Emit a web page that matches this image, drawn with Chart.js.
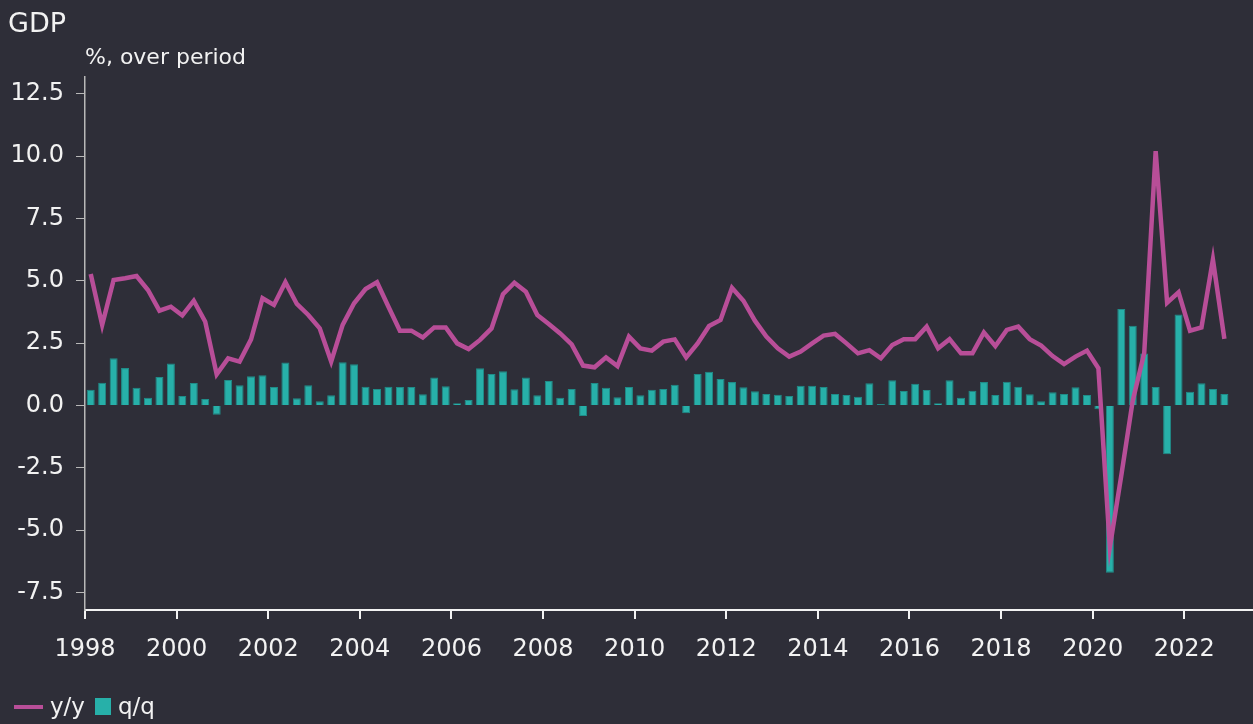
<!DOCTYPE html>
<html>
<head>
<meta charset="utf-8">
<script src="https://cdn.jsdelivr.net/npm/chart.js@4"></script>
<style>
  html, body { margin: 0; padding: 0; background: #2e2e38; }
  #wrap { position: relative; width: 1253px; height: 724px; font-family: "DejaVu Sans", sans-serif; color: #f2f2f2; }
  #myChart { position: absolute; left: 0; top: 0; }
  .title { position: absolute; left: 8px; top: 9px; font-size: 27px; line-height: 1; }
  .subtitle { position: absolute; left: 85px; top: 46px; font-size: 22px; line-height: 1; }
  .legend { position: absolute; left: 14px; top: 695px; font-size: 23px; line-height: 1; display: flex; align-items: center; }
  .legend .ln { width: 29px; height: 4px; background: #b84e98; margin-right: 7px; }
  .legend .sq { width: 16px; height: 17px; background: #27b0a9; margin: 0 7px 0 10px; }
</style>
</head>
<body>
<div id="wrap">
  <canvas id="myChart" width="1253" height="724"></canvas>
  <div class="title">GDP</div>
  <div class="subtitle">%, over period</div>
  <div class="legend"><span class="ln"></span>y/y<span class="sq"></span>q/q</div>
</div>
<script>
// quarterly, 1998 Q1 .. 2022 Q4
const startYear = 1998;

const yy = [
  5.27, 3.23, 5.03, 5.10, 5.19, 4.63, 3.80, 3.96, 3.61, 4.20,
  3.36, 1.25, 1.89, 1.76, 2.65, 4.30, 4.03, 4.94, 4.07, 3.63,
  3.09, 1.76, 3.23, 4.10, 4.67, 4.94, 3.96, 3.00, 3.00, 2.73,
  3.13, 3.13, 2.49, 2.26, 2.63, 3.09, 4.46, 4.92, 4.56, 3.63,
  3.27, 2.89, 2.45, 1.60, 1.53, 1.93, 1.58, 2.76, 2.29, 2.20,
  2.56, 2.65, 1.93, 2.49, 3.19, 3.43, 4.72, 4.20, 3.40, 2.76,
  2.29, 1.96, 2.16, 2.49, 2.80, 2.87, 2.49, 2.09, 2.22, 1.89,
  2.42, 2.66, 2.66, 3.16, 2.29, 2.66, 2.09, 2.09, 2.93, 2.38,
  3.03, 3.16, 2.66, 2.40, 1.98, 1.66, 1.96, 2.20, 1.49, -5.68,
  -2.8, 0.2, 2.1, 10.2, 4.12, 4.54, 3.00, 3.13, 5.85, 2.67,
];

const qq = [
  0.63, 0.91, 1.89, 1.50, 0.71, 0.31, 1.14, 1.68, 0.38, 0.90,
  0.26, -0.37, 1.02, 0.81, 1.17, 1.21, 0.74, 1.72, 0.29, 0.81,
  0.17, 0.41, 1.73, 1.65, 0.75, 0.66, 0.75, 0.74, 0.74, 0.45,
  1.12, 0.77, 0.09, 0.22, 1.49, 1.26, 1.37, 0.65, 1.12, 0.41,
  0.98, 0.31, 0.66, -0.42, 0.90, 0.71, 0.33, 0.74, 0.41, 0.63,
  0.66, 0.83, -0.31, 1.26, 1.35, 1.06, 0.94, 0.73, 0.57, 0.46,
  0.43, 0.38, 0.79, 0.79, 0.74, 0.46, 0.42, 0.35, 0.89, 0.06,
  1.01, 0.58, 0.87, 0.62, 0.09, 1.01, 0.31, 0.59, 0.94, 0.42,
  0.95, 0.75, 0.45, 0.17, 0.53, 0.46, 0.73, 0.42, -0.15, -6.71,
  3.87, 3.20, 2.08, 0.74, -1.96, 3.65, 0.55, 0.89, 0.66, 0.46,
];

// mid-quarter positions on the time axis
const quarters = yy.map((v, i) => startYear + (i + 0.5) / 4);

const yTicks = [-7.5, -5, -2.5, 0, 2.5, 5, 7.5, 10, 12.5];

const data = {
  datasets: [
    {
      type: "line",
      label: "y/y",
      data: quarters.map((x, i) => ({ x: x, y: yy[i] })),
      borderColor: "#b84e98",
      borderWidth: 4.5,
      borderJoinStyle: "miter",
      pointRadius: 0,
      tension: 0,
      order: 0,
    },
    {
      type: "bar",
      label: "q/q",
      data: quarters.map((x, i) => ({ x: x, y: qq[i] })),
      backgroundColor: "#27b0a9",
      borderColor: "#1f8c88",
      borderWidth: 1,
      barPercentage: 0.7,
      categoryPercentage: 1,
      order: 1,
    },
  ],
};

const config = {
  type: "bar",
  data: data,
  options: {
    responsive: false,
    animation: false,
    layout: {
      padding: { top: 77, right: 0, bottom: 0, left: 0 },
    },
    plugins: {
      legend: { display: false },
      tooltip: { enabled: false },
    },
    scales: {
      x: {
        type: "linear",
        min: 1998,
        max: 2023.5,
        offset: false,
        grid: { offset: false, drawOnChartArea: false, color: "#f2f2f2", tickLength: 9, lineWidth: 2 },
        border: { color: "#f2f2f2", width: 2 },
        ticks: {
          stepSize: 2,
          includeBounds: false,
          color: "#f2f2f2",
          padding: 16,
          maxRotation: 0,
          font: { size: 24 },
          callback: (v) => String(v),
        },
        afterFit: (scale) => { scale.height = 114; },
      },
      y: {
        min: -8.2,
        max: 13.17,
        grid: { drawOnChartArea: false, color: "#b8b8b8", tickLength: 9 },
        border: { color: "#b8b8b8", width: 1.5 },
        afterBuildTicks: (scale) => { scale.ticks = yTicks.map((v) => ({ value: v })); },
        ticks: {
          color: "#f2f2f2",
          padding: 12,
          font: { size: 24 },
          callback: (v) => v.toFixed(1),
        },
        afterFit: (scale) => { scale.width = 85; },
      },
    },
  },
};

Chart.defaults.font.family = "'DejaVu Sans', sans-serif";
Chart.defaults.color = "#f2f2f2";

let myChart = new Chart(document.getElementById("myChart"), config);
</script>
</body>
</html>
